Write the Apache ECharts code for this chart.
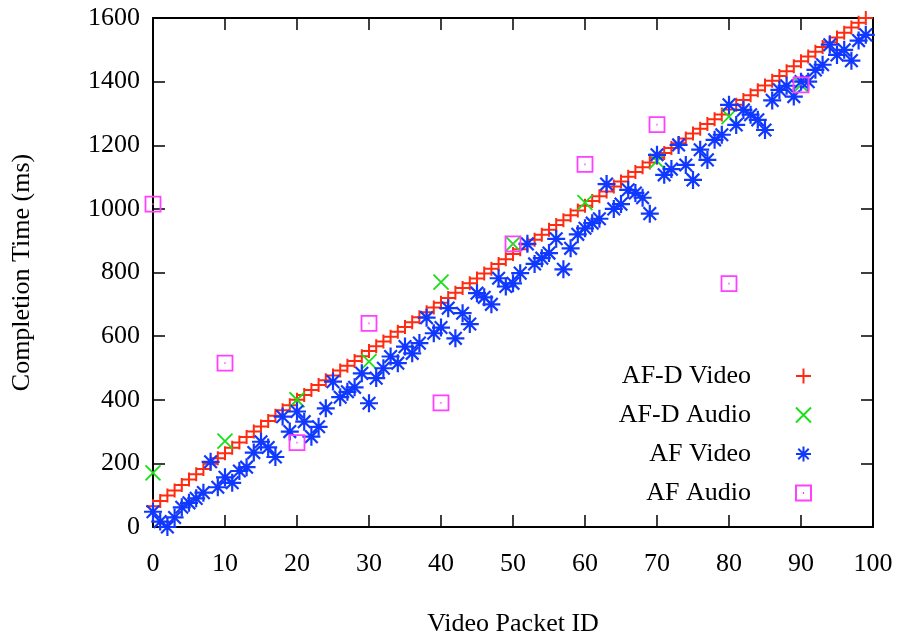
<!DOCTYPE html>
<html>
<head>
<meta charset="utf-8">
<script src="https://cdn.jsdelivr.net/npm/echarts@6/dist/echarts.min.js"></script>
<style>
html,body{margin:0;padding:0;background:#fff;}
#chart{width:897px;height:636px;}
</style>
</head>
<body>
<div id="chart"></div>
<script>
// Packet IDs
var packetIds = [];
for (var i = 0; i < 100; i++) packetIds.push(i);
var audioIds = [0, 10, 20, 30, 40, 50, 60, 70, 80, 90];

var afdVideo = [65, 82, 99, 115, 132, 149, 166, 182, 199, 216, 232, 249, 266, 283, 300, 316, 333, 350, 367, 383,
  400, 415, 431, 446, 461, 476, 492, 507, 522, 537, 553, 568, 583, 598, 614, 629, 644, 659, 675, 690,
  705, 720, 736, 751, 766, 781, 797, 812, 827, 842, 858, 873, 888, 903, 919, 934, 949, 964, 980, 995,
  1010, 1025, 1040, 1055, 1070, 1086, 1101, 1116, 1131, 1146, 1161, 1176, 1191, 1206, 1221, 1237, 1252, 1267, 1282, 1297,
  1312, 1327, 1342, 1357, 1373, 1388, 1403, 1418, 1433, 1448, 1464, 1479, 1494, 1509, 1524, 1539, 1554, 1570, 1585, 1600];

var afdAudio = [170, 270, 400, 520, 770, 890, 1020, 1150, 1290, 1390];

var afVideo = [48, 17, 0, 30, 62, 76, 90, 108, 205, 125, 156, 139, 176, 188, 234, 268, 250, 220, 347, 300,
  363, 331, 284, 315, 373, 457, 408, 425, 439, 483, 389, 468, 499, 536, 515, 567, 546, 578, 658, 609,
  627, 688, 593, 672, 638, 735, 722, 700, 782, 756, 766, 798, 890, 827, 845, 861, 906, 810, 876, 920,
  939, 955, 969, 1078, 1000, 1015, 1060, 1050, 1035, 985, 1170, 1107, 1125, 1201, 1138, 1091, 1186, 1154, 1217, 1233,
  1327, 1264, 1311, 1296, 1280, 1248, 1341, 1374, 1387, 1353, 1400, 1400, 1437, 1453, 1516, 1484, 1500, 1466, 1529, 1547];

var afAudio = [1015, 515, 265, 640, 390, 890, 1140, 1265, 765, 1390];

var seriesNames = ['AF-D Video', 'AF-D Audio', 'AF Video', 'AF Audio'];
var xTicks = { min: 0, max: 100, step: 10 };
var yTicks = { min: 0, max: 1600, step: 200 };

function pairs(xs, ys) {
  return ys.map(function (v, k) { return [xs[k], v]; });
}

var FONT = 'Liberation Serif';
var SYM_PLUS = 'path://M0,5H10M5,0V10';
var SYM_X = 'path://M0,0L10,10M10,0L0,10';
var SYM_STAR = 'path://M0,5H10M5,0V10M1.5,1.5L8.5,8.5M8.5,1.5L1.5,8.5';
var SYM_SQ = 'path://M0,0H10V10H0ZM4.6,5H5.4';

function mk(name, data, sym, size, col, bw) {
  return {
    name: name, type: 'scatter', data: data,
    symbol: sym, symbolSize: size,
    itemStyle: { color: 'rgba(0,0,0,0)', borderColor: col, borderWidth: bw, opacity: 1 },
    emphasis: { disabled: true },
    animation: false
  };
}

var axisCommon = {
  axisLine: { show: true, onZero: false, lineStyle: { color: '#000', width: 2 } },
  axisTick: { show: true, inside: true, length: 12, lineStyle: { color: '#000', width: 1.5 } },
  splitLine: { show: false }
};

function plain(v) { return String(v); }

var chart = echarts.init(document.getElementById('chart'), null, { renderer: 'canvas' });
chart.setOption({
  animation: false,
  backgroundColor: '#fff',
  grid: { left: 153, right: 24, top: 18, bottom: 109, containLabel: false, outerBoundsMode: 'none' },
  legend: {
    orient: 'vertical',
    right: 80,
    top: 358,
    align: 'right',
    itemWidth: 15,
    itemHeight: 15,
    itemGap: 13,
    data: seriesNames,
    textStyle: { fontFamily: FONT, fontSize: 26, color: '#000', padding: [0, 40, 0, 0] },
    selectedMode: false
  },
  xAxis: [
    Object.assign({
      type: 'value', position: 'bottom', min: xTicks.min, max: xTicks.max, interval: xTicks.step,
      name: 'Video Packet ID', nameLocation: 'middle', nameGap: 84,
      nameTextStyle: { fontFamily: FONT, fontSize: 26, color: '#000' },
      axisLabel: { fontFamily: FONT, fontSize: 26, color: '#000', margin: 24, formatter: plain }
    }, axisCommon),
    Object.assign({
      type: 'value', position: 'top', min: xTicks.min, max: xTicks.max, interval: xTicks.step,
      axisLabel: { show: false }
    }, axisCommon)
  ],
  yAxis: [
    Object.assign({
      type: 'value', position: 'left', min: yTicks.min, max: yTicks.max, interval: yTicks.step,
      name: 'Completion Time (ms)', nameLocation: 'middle', nameGap: 118,
      nameTextStyle: { fontFamily: FONT, fontSize: 26, color: '#000' },
      axisLabel: { fontFamily: FONT, fontSize: 26, color: '#000', margin: 13, formatter: plain }
    }, axisCommon),
    Object.assign({
      type: 'value', position: 'right', min: yTicks.min, max: yTicks.max, interval: yTicks.step,
      axisLabel: { show: false }
    }, axisCommon)
  ],
  series: [
    mk(seriesNames[0], pairs(packetIds, afdVideo), SYM_PLUS, 14, '#ff2a10', 2),
    mk(seriesNames[1], pairs(audioIds, afdAudio), SYM_X, 15, '#18e018', 1.8),
    mk(seriesNames[2], pairs(packetIds, afVideo), SYM_STAR, 18, '#1038ff', 2.2),
    mk(seriesNames[3], pairs(audioIds, afAudio), SYM_SQ, 15, '#ff40ff', 1.8)
  ]
});
</script>
</body>
</html>
